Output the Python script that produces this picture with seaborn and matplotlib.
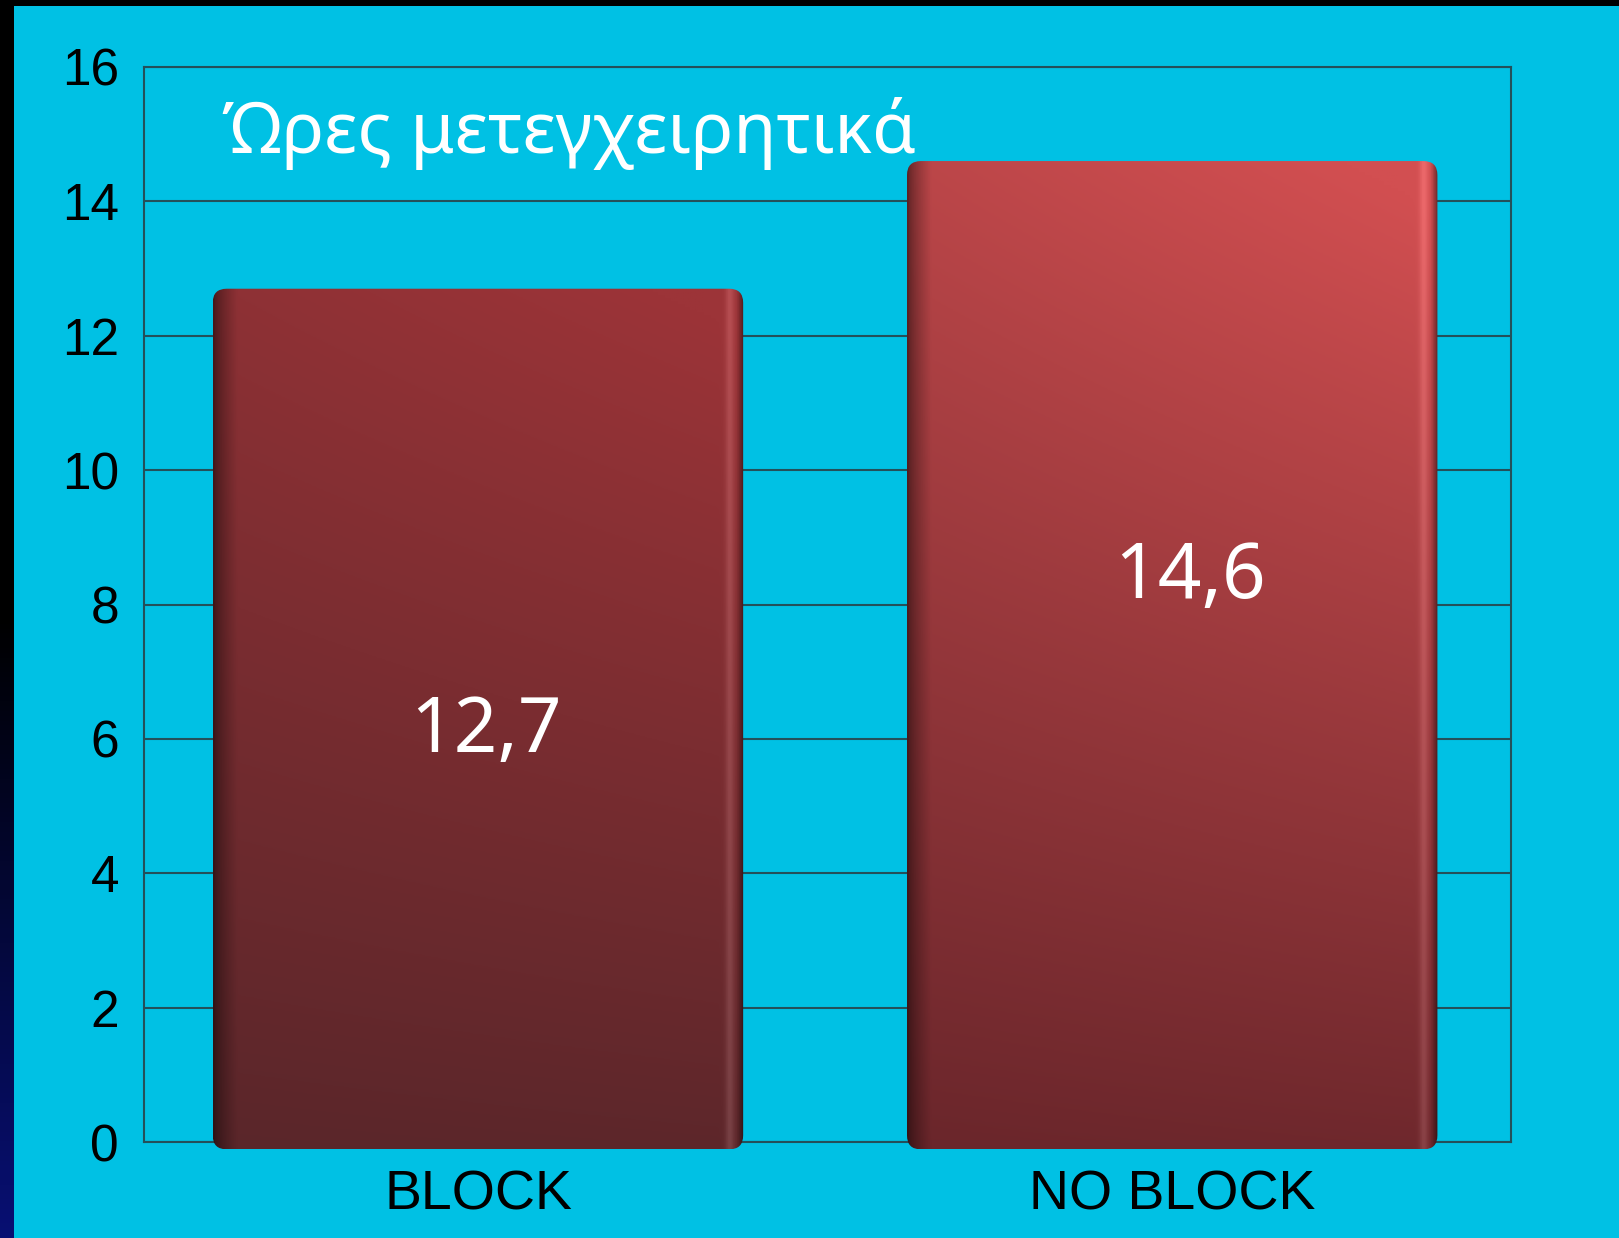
import numpy as np
import pandas as pd
import matplotlib
matplotlib.use("Agg")
import matplotlib.pyplot as plt
import seaborn as sns
from matplotlib.patches import FancyBboxPatch, Rectangle
from matplotlib.transforms import IdentityTransform

# ---- data ----
categories = ["BLOCK", "NO BLOCK"]
hours = [12.7, 14.6]
value_labels = ["12,7", "14,6"]
title_text = "Ώρες μετεγχειρητικά"
y_ticks = [0, 2, 4, 6, 8, 10, 12, 14, 16]

BG = "#00C1E4"
GRID = "#24505A"

sns.set_theme(style="white")
plt.rcParams["font.family"] = ["DejaVu Sans"]

W, H, DPI = 1619, 1238, 100
fig = plt.figure(figsize=(W / DPI, H / DPI), dpi=DPI, facecolor=BG)

# left dark strip with gradient (black at top -> navy at bottom) and top black strip
strip = fig.add_axes([0, 0, 13 / W, 1])
grad = np.linspace(0, 1, 256)
col = np.zeros((256, 1, 3))
tt = np.clip((grad - 0.5) / 0.5, 0, 1)[:, None]
col[:, :, 0] = 0.03 * tt
col[:, :, 1] = 0.06 * tt
col[:, :, 2] = 0.45 * tt
strip.imshow(col, aspect="auto", extent=[0, 1, 0, 1], origin="upper")
strip.set_axis_off()
fig.patches.append(Rectangle((0, 1 - 6 / H), 1, 6 / H, transform=fig.transFigure,
                             facecolor="black", edgecolor="none", zorder=5))

ax = fig.add_axes([144 / W, 1 - 1142 / H, (1511 - 144) / W, (1142 - 67) / H])
ax.set_facecolor(BG)

df = pd.DataFrame({"cat": categories, "hours": hours})
sns.barplot(data=df, x="cat", y="hours", ax=ax, width=0.764, color="#7D2A30",
            errorbar=None, zorder=3)

XLIM = (-0.481, 1.488)
ax.set_ylim(0, 16)
ax.set_xlim(*XLIM)
ax.set_yticks(y_ticks)
ax.set_yticklabels([str(t) for t in y_ticks])
ax.yaxis.grid(True, color=GRID, linewidth=1.5, zorder=0)
ax.xaxis.grid(False)
ax.set_axisbelow(True)
for s in ax.spines.values():
    s.set_visible(True)
    s.set_color(GRID)
    s.set_linewidth(1.5)
ax.set_xlabel("")
ax.set_ylabel("")
ax.tick_params(axis="both", length=0, labelcolor="black")
ax.tick_params(axis="y", pad=18, labelsize=37)
ax.tick_params(axis="x", pad=20, labelsize=40)
for lab in ax.get_xticklabels() + ax.get_yticklabels():
    lab.set_fontfamily(["Liberation Sans", "DejaVu Sans"])
for lab in ax.get_xticklabels():
    lab.set_x(lab.get_position()[0])

# gradient-filled rounded bars derived from the seaborn patches
schemes = [
    ("#5A262A", "#9C3438"),
    ("#6A262B", "#D24F51"),
]
bars = list(ax.patches)
for i, p in enumerate(bars):
    x0, y0 = p.get_x(), p.get_y()
    w, h = p.get_width(), p.get_height()
    p.set_facecolor("none")
    p.set_edgecolor("none")
    ny, nx = 300, 300
    u = np.linspace(0, 1, nx)[None, :]
    v = np.linspace(1, 0, ny)[:, None]
    c0 = np.array(matplotlib.colors.to_rgb(schemes[i][0]))
    c1 = np.array(matplotlib.colors.to_rgb(schemes[i][1]))
    t = np.clip(0.78 * v + 0.22 * u * v + 0.05 * u, 0, 1)
    img = c0[None, None, :] * (1 - t[..., None]) + c1[None, None, :] * t[..., None]
    shade = np.ones((1, nx))
    left = np.clip(u / 0.045, 0, 1) ** 0.7
    shade *= 0.5 + 0.5 * left
    hl = np.exp(-((u - 0.975) / 0.008) ** 2)
    rim = np.clip((u - 0.988) / 0.012, 0, 1)
    img = img * shade[..., None]
    img = img + (0.10 * hl)[..., None]
    img = img * (1 - 0.45 * rim)[..., None]
    img = np.clip(img, 0, 1)
    ybot = y0 - 0.11
    disp = ax.transData.transform([[x0, ybot], [x0 + w, y0 + h]])
    rp = FancyBboxPatch((disp[0, 0], disp[0, 1]), disp[1, 0] - disp[0, 0],
                        disp[1, 1] - disp[0, 1],
                        boxstyle="round,pad=0,rounding_size=14",
                        transform=IdentityTransform(), facecolor="none",
                        edgecolor="none")
    im = ax.imshow(img, extent=[x0, x0 + w, ybot, y0 + h], aspect="auto",
                   zorder=3)
    im.set_clip_path(rp)
    im.set_clip_box(fig.bbox)

ax.set_xlim(*XLIM)
ax.set_ylim(0, 16)

# value labels
label_frac = [0.481, 0.575]
label_dx = [0.012, 0.025]
for i, p in enumerate(bars):
    cx = p.get_x() + p.get_width() / 2 + label_dx[i]
    ax.text(cx, hours[i] * label_frac[i], value_labels[i], color="white",
            fontsize=55, ha="center", va="center", zorder=6,
            family=["Noto Sans", "DejaVu Sans"])

ax.text(0.057, 0.972, title_text, transform=ax.transAxes, color="white",
        fontsize=51, ha="left", va="top", zorder=6,
        family=["Noto Sans", "DejaVu Sans"])

fig.savefig("out.png", dpi=DPI, facecolor=BG)
